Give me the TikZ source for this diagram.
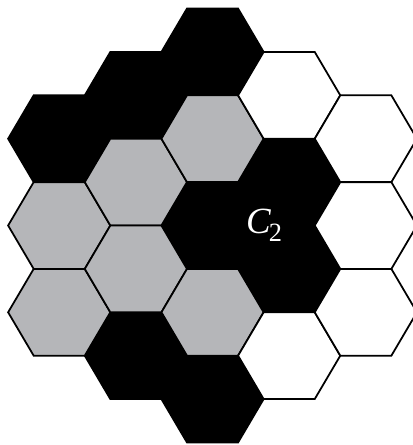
\documentclass[tikz,border=0pt]{standalone}
\usepackage{fontspec}
\setmainfont{Liberation Serif}
\newfontfamily\labelfont{Liberation Serif}
\usepackage{xcolor}
\usepackage{tikz}
\definecolor{cellgray}{RGB}{181,182,185}

% one flat-topped cell: column, half-row, style
\newcommand{\hexcell}[3]{%
  \draw[#3] ({1.5*#1},{0.866*#2}) +(1,0) -- +(0.5,0.866) -- +(-0.5,0.866)
    -- +(-1,0) -- +(-0.5,-0.866) -- +(0.5,-0.866) -- cycle;}

\begin{document}
\begin{tikzpicture}[x=1.022cm, y=1.002cm, line width=1pt,
    blackcell/.style={fill=black, draw=black},
    graycell/.style={fill=cellgray, draw=black},
    whitecell/.style={fill=white, draw=black}]
    \useasboundingbox (-4.159,-4.381) rectangle (3.904,4.501);
    % black cells
    \foreach \c/\j in {-2/2, -1/3, -1/-3, 0/4, 0/0, 0/-4, 1/1, 1/-1}
      \hexcell{\c}{\j}{blackcell};
    % gray cells
    \foreach \c/\j in {-2/0, -2/-2, -1/1, -1/-1, 0/2, 0/-2}
      \hexcell{\c}{\j}{graycell};
    % white cells
    \foreach \c/\j in {1/3, 1/-3, 2/2, 2/0, 2/-2}
      \hexcell{\c}{\j}{whitecell};
    \node[text=white, inner sep=0pt] (ctwo) at (1.01,0.0)
      {\labelfont\fontsize{21}{25}\selectfont\itshape C\kern-0.05em\raisebox{-0.22em}{\fontsize{15}{18}\selectfont\upshape 2}};
\end{tikzpicture}
\end{document}
